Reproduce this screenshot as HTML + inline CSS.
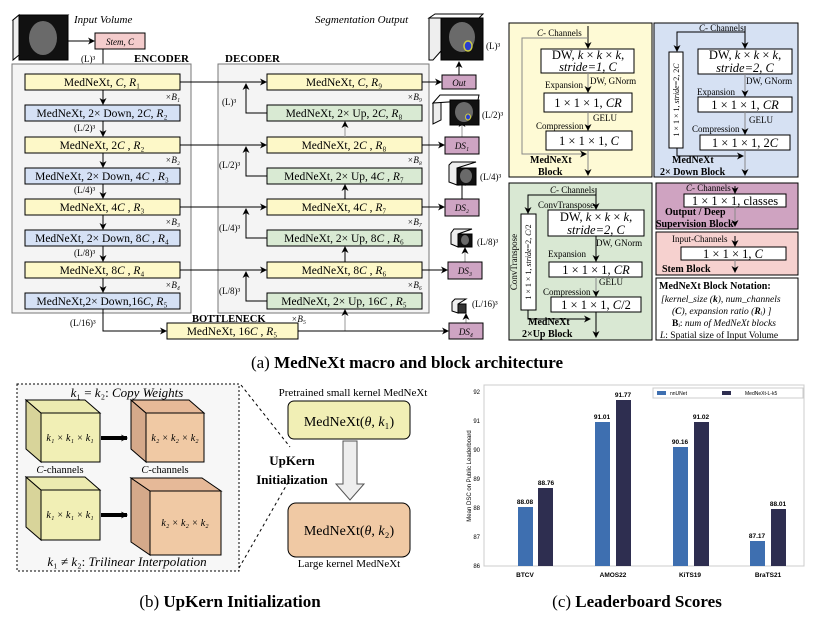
<!DOCTYPE html>
<html><head><meta charset="utf-8"><style>
html,body{margin:0;padding:0;background:#fff;width:814px;height:624px;overflow:hidden}
svg{display:block}
text{font-family:"Liberation Serif",serif;fill:#000}
.b{font-size:11.5px}
.s{font-size:9px}
.i{font-style:italic}
.sans, .sans text, text.sans{font-family:"Liberation Sans",sans-serif}
</style></head><body>
<svg width="814" height="624" viewBox="0 0 814 624" xmlns="http://www.w3.org/2000/svg">
<defs>
<marker id="a" markerWidth="7" markerHeight="7" refX="6" refY="3.5" orient="auto" markerUnits="userSpaceOnUse"><path d="M0,0 L7,3.5 L0,7 L2,3.5 z" fill="#000"/></marker>
</defs>

<!-- input cube -->
<polygon points="13,20 19,15 68,15 62,20" fill="#fff" stroke="#000"/>
<polygon points="13,20 19,15 19,55 13,60" fill="#eee" stroke="#000"/>
<rect x="19" y="15" width="49" height="45" fill="#111" stroke="#000"/>
<ellipse cx="43" cy="38" rx="14" ry="17" fill="#6a6a6a"/>
<text x="74" y="23" class="i" font-size="11">Input Volume</text>
<line x1="68" y1="41" x2="94" y2="41" stroke="#000" marker-end="url(#a)"/>
<rect x="95" y="33" width="50" height="16" fill="#f4cccc" stroke="#000"/>
<text x="120" y="45" class="i s" text-anchor="middle" font-size="10">Stem, C</text>
<text x="81" y="62" class="s">(L)³</text>
<line x1="103" y1="49" x2="103" y2="73" stroke="#000" marker-end="url(#a)"/>
<text x="134" y="62" font-size="11" font-weight="bold">ENCODER</text>
<text x="225" y="62" font-size="11" font-weight="bold">DECODER</text>
<text x="315" y="23" class="i" font-size="11">Segmentation Output</text>

<rect x="12" y="64" width="179" height="249" fill="#f4f4f4" stroke="#777"/>
<rect x="218" y="64" width="211" height="249" fill="#f4f4f4" stroke="#777"/>

<g stroke="#000">
<rect x="25" y="74" width="155" height="16" fill="#fdf8c8"/>
<rect x="25" y="105" width="155" height="16" fill="#d5e1f5"/>
<rect x="25" y="137" width="155" height="16" fill="#fdf8c8"/>
<rect x="25" y="168" width="155" height="16" fill="#d5e1f5"/>
<rect x="25" y="199" width="155" height="16" fill="#fdf8c8"/>
<rect x="25" y="230" width="155" height="16" fill="#d5e1f5"/>
<rect x="25" y="262" width="155" height="16" fill="#fdf8c8"/>
<rect x="25" y="293" width="155" height="16" fill="#d5e1f5"/>
<rect x="267" y="74" width="155" height="16" fill="#fdf8c8"/>
<rect x="267" y="105" width="155" height="16" fill="#d9ead3"/>
<rect x="267" y="137" width="155" height="16" fill="#fdf8c8"/>
<rect x="267" y="168" width="155" height="16" fill="#d9ead3"/>
<rect x="267" y="199" width="155" height="16" fill="#fdf8c8"/>
<rect x="267" y="230" width="155" height="16" fill="#d9ead3"/>
<rect x="267" y="262" width="155" height="16" fill="#fdf8c8"/>
<rect x="267" y="293" width="155" height="16" fill="#d9ead3"/>
<rect x="167" y="323" width="131" height="16" fill="#fdf8c8"/>
</g>
<g class="b" text-anchor="middle">
<text x="102" y="86">MedNeXt, <tspan class="i">C</tspan>, <tspan class="i">R</tspan>₁</text>
<text x="102" y="117">MedNeXt, 2× Down, 2<tspan class="i">C</tspan>, <tspan class="i">R</tspan>₂</text>
<text x="102" y="149">MedNeXt, 2<tspan class="i">C</tspan> , <tspan class="i">R</tspan>₂</text>
<text x="102" y="180">MedNeXt, 2× Down, 4<tspan class="i">C</tspan> , <tspan class="i">R</tspan>₃</text>
<text x="102" y="211">MedNeXt, 4<tspan class="i">C</tspan> , <tspan class="i">R</tspan>₃</text>
<text x="102" y="242">MedNeXt, 2× Down, 8<tspan class="i">C</tspan> , <tspan class="i">R</tspan>₄</text>
<text x="102" y="274">MedNeXt, 8<tspan class="i">C</tspan> , <tspan class="i">R</tspan>₄</text>
<text x="102" y="305">MedNeXt,2× Down,16<tspan class="i">C</tspan>, <tspan class="i">R</tspan>₅</text>
<text x="344" y="86">MedNeXt, <tspan class="i">C</tspan>, <tspan class="i">R</tspan>₉</text>
<text x="344" y="117">MedNeXt, 2× Up, 2<tspan class="i">C</tspan>, <tspan class="i">R</tspan>₈</text>
<text x="344" y="149">MedNeXt, 2<tspan class="i">C</tspan> , <tspan class="i">R</tspan>₈</text>
<text x="344" y="180">MedNeXt, 2× Up, 4<tspan class="i">C</tspan> , <tspan class="i">R</tspan>₇</text>
<text x="344" y="211">MedNeXt, 4<tspan class="i">C</tspan> , <tspan class="i">R</tspan>₇</text>
<text x="344" y="242">MedNeXt, 2× Up, 8<tspan class="i">C</tspan> , <tspan class="i">R</tspan>₆</text>
<text x="344" y="274">MedNeXt, 8<tspan class="i">C</tspan> , <tspan class="i">R</tspan>₆</text>
<text x="344" y="305">MedNeXt, 2× Up, 16<tspan class="i">C</tspan> , <tspan class="i">R</tspan>₅</text>
<text x="232" y="335">MedNeXt, 16<tspan class="i">C</tspan> , <tspan class="i">R</tspan>₅</text>
</g>
<text x="192" y="322" font-size="10.5" font-weight="bold">BOTTLENECK</text>
<g class="s i" text-anchor="end">
<text x="180" y="100">×B₁</text><text x="180" y="163">×B₂</text><text x="180" y="225">×B₃</text><text x="180" y="288">×B₄</text>
<text x="422" y="100">×B₉</text><text x="422" y="163">×B₈</text><text x="422" y="225">×B₇</text><text x="422" y="288">×B₆</text>
<text x="306" y="322">×B₅</text>
</g>
<g stroke="#000" marker-end="url(#a)">
<line x1="103" y1="90" x2="103" y2="104"/><line x1="103" y1="121" x2="103" y2="136"/>
<line x1="103" y1="153" x2="103" y2="167"/><line x1="103" y1="184" x2="103" y2="198"/>
<line x1="103" y1="215" x2="103" y2="229"/><line x1="103" y1="246" x2="103" y2="261"/>
<line x1="103" y1="278" x2="103" y2="292"/>
<polyline points="103,309 103,331 166,331" fill="none"/>
<line x1="180" y1="82" x2="266" y2="82"/><line x1="180" y1="145" x2="266" y2="145"/>
<line x1="180" y1="207" x2="266" y2="207"/><line x1="180" y1="270" x2="266" y2="270"/>
<polyline points="267,113 246,113 246,84" fill="none"/>
<polyline points="267,176 246,176 246,147" fill="none"/>
<polyline points="267,238 246,238 246,209" fill="none"/>
<polyline points="267,301 246,301 246,272" fill="none"/>
<line x1="345" y1="137" x2="345" y2="122" stroke="#999"/>
<line x1="345" y1="199" x2="345" y2="185"/>
<line x1="345" y1="262" x2="345" y2="247"/>
<line x1="345" y1="331" x2="345" y2="310" stroke="#999"/>
<line x1="298" y1="331" x2="448" y2="331"/>
<line x1="422" y1="82" x2="441" y2="82"/><line x1="422" y1="145" x2="444" y2="145"/>
<line x1="422" y1="207" x2="444" y2="207"/><line x1="422" y1="270" x2="447" y2="270"/>
<line x1="459" y1="75" x2="459" y2="62"/><line x1="462" y1="137" x2="462" y2="121" stroke="#999"/>
<line x1="462" y1="199" x2="462" y2="180"/><line x1="465" y1="262" x2="465" y2="248" stroke="#999"/>
<line x1="466" y1="323" x2="466" y2="314" stroke="#999"/>
</g>
<g class="s">
<text x="74" y="131">(L/2)³</text><text x="74" y="193">(L/4)³</text><text x="74" y="256">(L/8)³</text><text x="70" y="326">(L/16)³</text>
<text x="222" y="105">(L)³</text><text x="219" y="168">(L/2)³</text><text x="219" y="231">(L/4)³</text><text x="219" y="294">(L/8)³</text>
</g>
<g stroke="#000">
<rect x="442" y="75" width="34" height="14" fill="#cea4c3"/>
<rect x="445" y="137" width="34" height="17" fill="#cea4c3"/>
<rect x="445" y="199" width="34" height="17" fill="#cea4c3"/>
<rect x="448" y="262" width="34" height="17" fill="#cea4c3"/>
<rect x="449" y="323" width="34" height="16" fill="#cea4c3"/>
</g>
<g class="i s" text-anchor="middle" font-size="10">
<text x="459" y="86">Out</text><text x="462" y="149">DS₁</text><text x="462" y="211">DS₂</text><text x="465" y="274">DS₃</text><text x="466" y="335">DS₄</text>
</g>
<g stroke="#000">
<polygon points="429,18 441,18 441,51 433,60 429,60" fill="#eee"/>
<polygon points="429,18 435,14 483,14 479,18" fill="#fff"/>
<rect x="441" y="18" width="42" height="42" fill="#111"/>
<polygon points="441,100 441,120 433,124 433,103" fill="#eee"/>
<polygon points="433,103 440,95 479,95 478,100" fill="#fff"/>
<rect x="450" y="100" width="29" height="25" fill="#111"/>
<rect x="457" y="168" width="19" height="17" fill="#111"/>
<polygon points="449,165 452,162 476,162 457,168 457,185 449,182" fill="#eee"/>
<rect x="458" y="234" width="14" height="13" fill="#111"/>
<polygon points="451,233 454,229 472,229 458,234 458,247 451,244" fill="#eee"/>
<rect x="458" y="304" width="8" height="9" fill="#333"/>
<polygon points="452,302 455,299 466,299 458,304 458,313 452,311" fill="#eee"/>
</g>
<ellipse cx="462" cy="37" rx="13" ry="15" fill="#6a6a6a"/><ellipse cx="468" cy="46" rx="4" ry="5" fill="#2a3fd0" stroke="#cc4" stroke-width="1.5"/>
<ellipse cx="464" cy="112" rx="9" ry="10" fill="#6a6a6a"/><ellipse cx="468" cy="117" rx="2.5" ry="3" fill="#2a3fd0" stroke="#cc4"/>
<ellipse cx="466" cy="176" rx="6" ry="7" fill="#6a6a6a"/>
<ellipse cx="465" cy="240" rx="4" ry="5" fill="#6a6a6a"/>
<g class="s"><text x="486" y="49">(L)³</text><text x="482" y="118">(L/2)³</text><text x="480" y="180">(L/4)³</text><text x="477" y="245">(L/8)³</text><text x="472" y="307">(L/16)³</text></g>

<g stroke="#000">
<rect x="509" y="23" width="143" height="154" fill="#fefad5"/>
<rect x="654" y="23" width="144" height="154" fill="#d6e1f3"/>
<rect x="509" y="183" width="143" height="157" fill="#d9e8d3"/>
<rect x="656" y="183" width="142" height="46" fill="#cfa3c1"/>
<rect x="656" y="232" width="142" height="43" fill="#f6d1cf"/>
<rect x="656" y="278" width="142" height="62" fill="#fff"/>
<rect x="541" y="49" width="93" height="24" fill="#fff"/>
<rect x="544" y="93" width="88" height="19" fill="#fff"/>
<rect x="546" y="131" width="86" height="19" fill="#fff"/>
<rect x="698" y="49" width="94" height="25" fill="#fff"/>
<rect x="669" y="52" width="14" height="96" fill="#fff"/>
<rect x="698" y="97" width="94" height="15" fill="#fff"/>
<rect x="700" y="135" width="90" height="15" fill="#fff"/>
<rect x="548" y="210" width="96" height="26" fill="#fff"/>
<rect x="521" y="214" width="15" height="96" fill="#fff"/>
<rect x="549" y="262" width="93" height="15" fill="#fff"/>
<rect x="551" y="297" width="90" height="15" fill="#fff"/>
<rect x="684" y="194" width="102" height="13" fill="#fff"/>
<rect x="681" y="247" width="105" height="13" fill="#fff"/>
</g>
<g stroke="#000" fill="none" marker-end="url(#a)">
<line x1="588" y1="26" x2="588" y2="48"/>
<line x1="588" y1="73" x2="588" y2="92" stroke="#888"/>
<line x1="588" y1="112" x2="588" y2="130" stroke="#888"/>
<line x1="588" y1="150" x2="588" y2="175" stroke="#888"/>
<polyline points="588,38 522,38 522,154 586,154" stroke="#888"/>
<line x1="745" y1="26" x2="745" y2="48"/>
<polyline points="745,32 677,32 677,51"/>
<line x1="745" y1="74" x2="745" y2="96" stroke="#888"/>
<line x1="745" y1="112" x2="745" y2="134" stroke="#888"/>
<line x1="745" y1="150" x2="745" y2="175" stroke="#888"/>
<polyline points="677,148 677,156 743,156"/>
<line x1="596" y1="188" x2="596" y2="209"/>
<polyline points="596,195 528,195 528,213"/>
<line x1="596" y1="236" x2="596" y2="261"/>
<line x1="596" y1="277" x2="596" y2="296" stroke="#888"/>
<line x1="596" y1="312" x2="596" y2="337"/>
<polyline points="528,310 528,319 590,319"/>
<line x1="735" y1="186" x2="735" y2="193"/>
<line x1="735" y1="207" x2="735" y2="226" stroke="#888"/>
<line x1="735" y1="236" x2="735" y2="246"/>
<line x1="735" y1="260" x2="735" y2="272" stroke="#888"/>
</g>
<g font-size="9">
<text x="537" y="36"><tspan class="i">C</tspan>- Channels</text>
<text x="545" y="88">Expansion</text><text x="590" y="84">DW, GNorm</text>
<text x="536" y="129">Compression</text><text x="593" y="121">GELU</text>
<text x="699" y="31"><tspan class="i">C</tspan>- Channels</text>
<text x="697" y="95">Expansion</text><text x="746" y="84">DW, GNorm</text>
<text x="692" y="132">Compression</text><text x="749" y="123">GELU</text>
<text x="550" y="193"><tspan class="i">C</tspan>- Channels</text>
<text x="538" y="208">ConvTranspose</text>
<text x="548" y="257">Expansion</text><text x="596" y="246">DW, GNorm</text>
<text x="543" y="295">Compression</text><text x="599" y="285">GELU</text>
<text x="686" y="191"><tspan class="i">C</tspan>- Channels</text>
<text x="672" y="242">Input-Channels</text>
</g>
<g font-size="12.5" text-anchor="middle">
<text x="588" y="59">DW, <tspan class="i">k</tspan> × <tspan class="i">k</tspan> × <tspan class="i">k</tspan>,</text>
<text x="588" y="71" class="i">stride=1, C</text>
<text x="588" y="107">1 × 1 × 1, <tspan class="i">CR</tspan></text>
<text x="589" y="145">1 × 1 × 1, <tspan class="i">C</tspan></text>
<text x="745" y="59">DW, <tspan class="i">k</tspan> × <tspan class="i">k</tspan> × <tspan class="i">k</tspan>,</text>
<text x="745" y="72" class="i">stride=2, C</text>
<text x="745" y="109">1 × 1 × 1, <tspan class="i">CR</tspan></text>
<text x="745" y="147">1 × 1 × 1, 2<tspan class="i">C</tspan></text>
<text x="596" y="221">DW, <tspan class="i">k</tspan> × <tspan class="i">k</tspan> × <tspan class="i">k</tspan>,</text>
<text x="596" y="234" class="i">stride=2, C</text>
<text x="596" y="274">1 × 1 × 1, <tspan class="i">CR</tspan></text>
<text x="596" y="309">1 × 1 × 1, <tspan class="i">C</tspan>/2</text>
<text x="735" y="205">1 × 1 × 1, classes</text>
<text x="733" y="258">1 × 1 × 1, <tspan class="i">C</tspan></text>
</g>
<g font-size="8" text-anchor="middle">
<text transform="translate(679,100) rotate(-90)">1 × 1 × 1, <tspan class="i">stride</tspan>=2, 2<tspan class="i">C</tspan></text>
<text transform="translate(531,262) rotate(-90)">1 × 1 × 1, <tspan class="i">stride</tspan>=2, <tspan class="i">C</tspan>/2</text>
<text transform="translate(517,262) rotate(-90)" font-size="9">ConvTranspose</text>
</g>
<g font-size="10" font-weight="bold">
<text x="530" y="163">MedNeXt</text><text x="538" y="175">Block</text>
<text x="672" y="163">MedNeXt</text><text x="660" y="175">2× Down Block</text>
<text x="528" y="325">MedNeXt</text><text x="522" y="337">2×Up Block</text>
<text x="665" y="215">Output / Deep</text><text x="656" y="227">Supervision Block</text>
<text x="662" y="272">Stem Block</text>
<text x="659" y="289">MedNeXt Block Notation:</text>
</g>
<g font-size="9.5">
<text x="661" y="302" class="i">[kernel_size (<tspan font-weight="bold">k</tspan>), num_channels</text>
<text x="672" y="314" class="i">(<tspan font-weight="bold">C</tspan>), expansion ratio (<tspan font-weight="bold">R</tspan>ᵢ) ]</text>
<text x="672" y="326"><tspan font-weight="bold">B</tspan>ᵢ: <tspan class="i">num of MedNeXt blocks</tspan></text>
<text x="660" y="338"><tspan class="i">L</tspan>: Spatial size of Input Volume</text>
</g>

<text x="407" y="368" text-anchor="middle" font-size="17">(a) <tspan font-weight="bold">MedNeXt macro and block architecture</tspan></text>

<rect x="17" y="384" width="222" height="187" fill="#f7f7f7" stroke="#000" stroke-dasharray="2,2"/>
<line x1="241" y1="385" x2="290" y2="447" stroke="#000" stroke-dasharray="3,3"/>
<line x1="239" y1="568" x2="290" y2="479" stroke="#000" stroke-dasharray="3,3"/>
<text x="127" y="397" text-anchor="middle" font-size="13"><tspan class="i">k</tspan>₁ = <tspan class="i">k</tspan>₂: <tspan class="i">Copy Weights</tspan></text>
<g stroke="#000">
<polygon points="26,400 41,413 41,462 26,449" fill="#d8d49a"/><polygon points="26,400 85,400 100,413 41,413" fill="#ecebb0"/><rect x="41" y="413" width="59" height="49" fill="#f1efb5"/>
<polygon points="131,400 146,413 146,462 131,449" fill="#d5a98a"/><polygon points="131,400 189,400 204,413 146,413" fill="#e6b998"/><rect x="146" y="413" width="58" height="49" fill="#f0c9a4"/>
<polygon points="26,477 41,490 41,540 26,527" fill="#d8d49a"/><polygon points="26,477 85,477 100,490 41,490" fill="#ecebb0"/><rect x="41" y="490" width="59" height="50" fill="#f1efb5"/>
<polygon points="131,478 150,491 150,555 131,542" fill="#d5a98a"/><polygon points="131,478 202,478 221,491 150,491" fill="#e6b998"/><rect x="150" y="491" width="71" height="64" fill="#f0c9a4"/>
</g>
<line x1="101" y1="438" x2="127" y2="438" stroke="#000" stroke-width="4" marker-end="url(#a)"/>
<line x1="101" y1="515" x2="127" y2="515" stroke="#000" stroke-width="4" marker-end="url(#a)"/>
<g font-size="10" text-anchor="middle" class="i">
<text x="70" y="441">k₁ × k₁ × k₁</text><text x="175" y="441">k₂ × k₂ × k₂</text>
<text x="70" y="518">k₁ × k₁ × k₁</text><text x="185" y="526">k₂ × k₂ × k₂</text>
</g>
<g font-size="10.5" text-anchor="middle"><text x="60" y="473"><tspan class="i">C</tspan>-channels</text><text x="165" y="473"><tspan class="i">C</tspan>-channels</text></g>
<text x="127" y="566" text-anchor="middle" font-size="13"><tspan class="i">k</tspan>₁ ≠ <tspan class="i">k</tspan>₂: <tspan class="i">Trilinear Interpolation</tspan></text>
<text x="353" y="396" text-anchor="middle" font-size="11">Pretrained small kernel MedNeXt</text>
<rect x="288" y="401" width="122" height="38" rx="6" fill="#f1efb5" stroke="#000"/>
<text x="349" y="426" text-anchor="middle" font-size="14">MedNeXt(<tspan class="i">θ</tspan>, <tspan class="i">k</tspan>₁)</text>
<polygon points="343,441 357,441 357,484 364,484 350,500 336,484 343,484" fill="#eee" stroke="#555"/>
<text x="292" y="465" text-anchor="middle" font-size="13" font-weight="bold">UpKern</text>
<text x="292" y="484" text-anchor="middle" font-size="13" font-weight="bold">Initialization</text>
<rect x="288" y="503" width="122" height="54" rx="8" fill="#f0c9a4" stroke="#000"/>
<text x="349" y="535" text-anchor="middle" font-size="14">MedNeXt(<tspan class="i">θ</tspan>, <tspan class="i">k</tspan>₂)</text>
<text x="349" y="567" text-anchor="middle" font-size="11">Large kernel MedNeXt</text>
<text x="230" y="607" text-anchor="middle" font-size="17">(b) <tspan font-weight="bold">UpKern Initialization</tspan></text>

<rect x="484" y="385" width="320" height="181" fill="#fff" stroke="#ccc"/>
<g class="sans" font-size="6" fill="#333" text-anchor="end">
<text x="480" y="394">92</text><text x="480" y="423">91</text><text x="480" y="452">90</text><text x="480" y="481">89</text><text x="480" y="510">88</text><text x="480" y="539">87</text><text x="480" y="568">86</text>
</g>
<text class="sans" font-size="6" transform="translate(471,476) rotate(-90)" text-anchor="middle">Mean DSC on Public Leaderboard</text>
<g fill="#3e6fb0">
<rect x="518" y="507" width="15" height="59"/><rect x="595" y="422" width="15" height="144"/><rect x="673" y="447" width="15" height="119"/><rect x="750" y="541" width="15" height="25"/>
</g>
<g fill="#2e2e50">
<rect x="538" y="488" width="15" height="78"/><rect x="616" y="400" width="15" height="166"/><rect x="694" y="422" width="15" height="144"/><rect x="771" y="509" width="15" height="57"/>
</g>
<g class="sans" font-size="6.5" font-weight="bold" text-anchor="middle">
<text x="525" y="504" fill="#3e6fb0">88.08</text><text x="546" y="485">88.76</text>
<text x="602" y="419" fill="#3e6fb0">91.01</text><text x="623" y="397">91.77</text>
<text x="680" y="444" fill="#3e6fb0">90.16</text><text x="701" y="419">91.02</text>
<text x="757" y="538" fill="#3e6fb0">87.17</text><text x="778" y="506">88.01</text>
<text x="525" y="577">BTCV</text><text x="613" y="577">AMOS22</text><text x="690" y="577">KiTS19</text><text x="768" y="577">BraTS21</text>
</g>
<rect x="653" y="388" width="150" height="10" fill="#fff" stroke="#ccc"/>
<rect x="657" y="391" width="9" height="4" fill="#3e6fb0"/><text x="670" y="395" class="sans" font-size="5">nnUNet</text>
<rect x="722" y="391" width="9" height="4" fill="#2e2e50"/><text x="745" y="395" class="sans" font-size="5">MedNeXt-L-k5</text>
<text x="637" y="607" text-anchor="middle" font-size="17">(c) <tspan font-weight="bold">Leaderboard Scores</tspan></text>
</svg>
</body></html>
